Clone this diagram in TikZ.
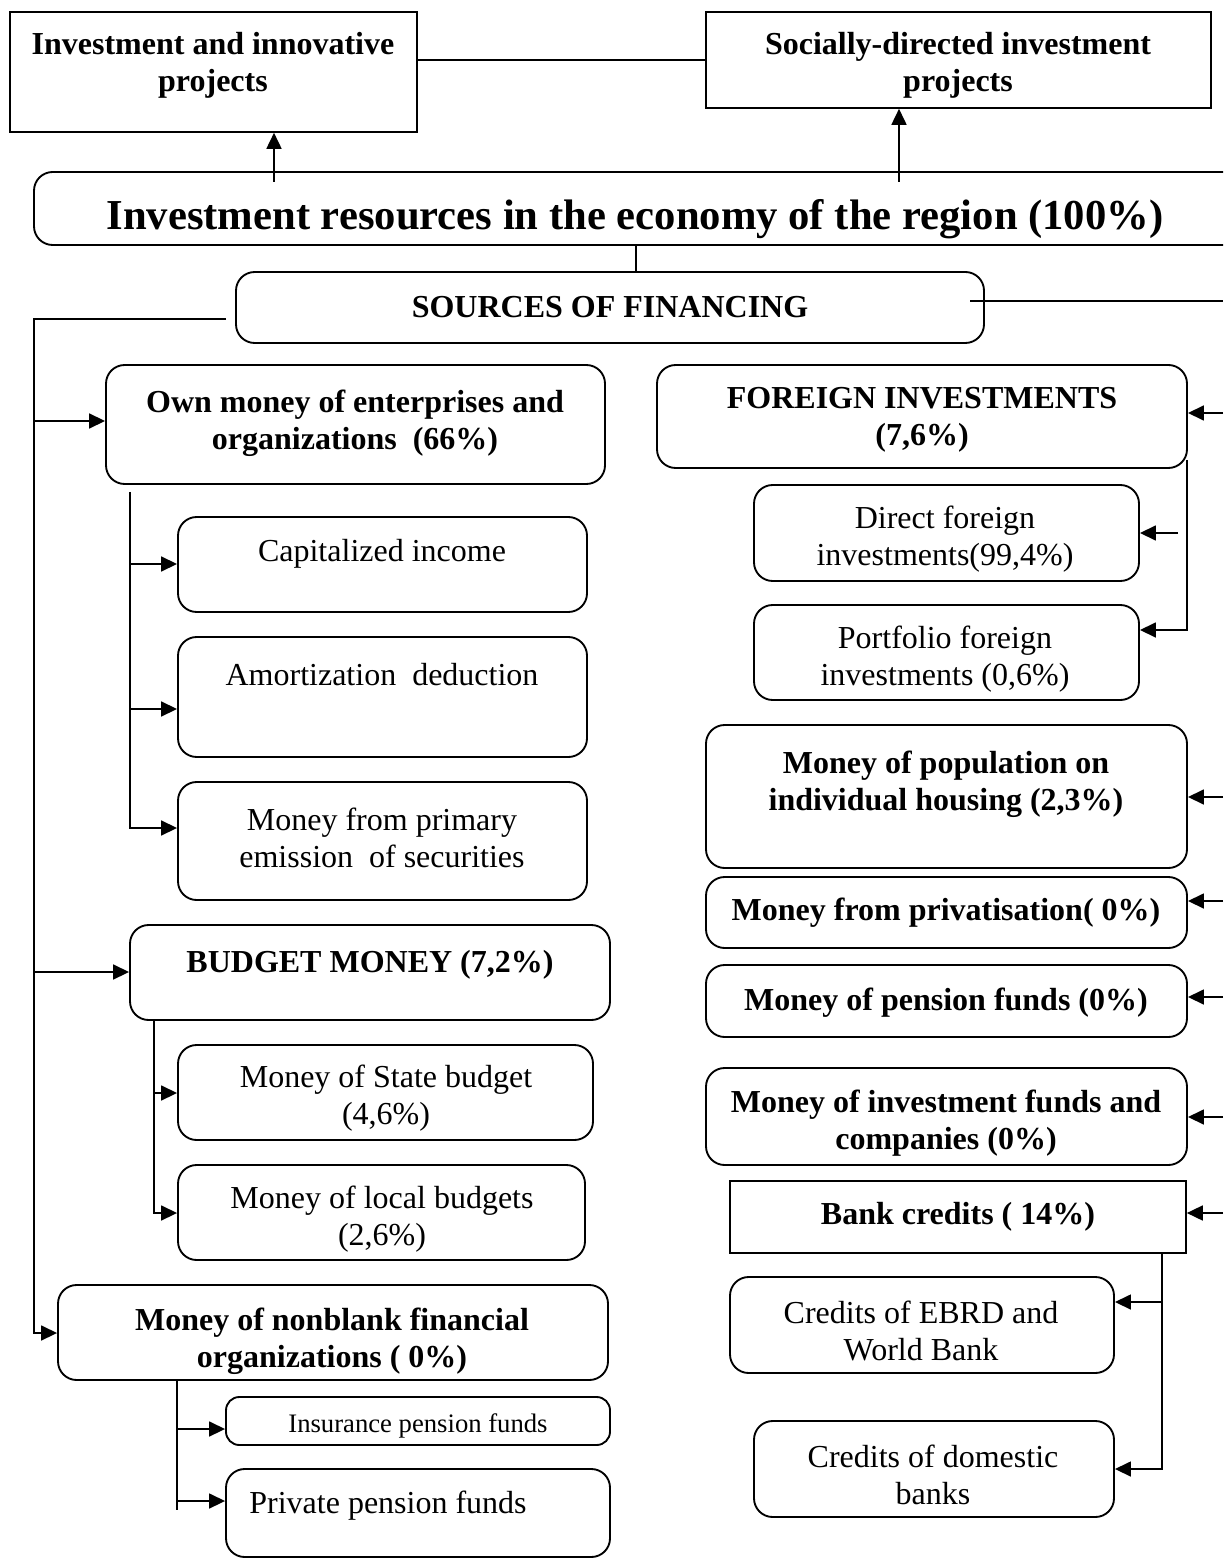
\documentclass[tikz,border=0pt]{standalone}
\usepackage{fontspec}
\setmainfont{Liberation Serif}
\usetikzlibrary{arrows.meta,fit}
\begin{document}
\begin{tikzpicture}[x=0.375pt,y=-0.375pt,
  rbox/.style={draw, line width=0.7pt, rounded corners=7pt, inner sep=0pt},
  sbox/.style={draw, line width=0.6pt, inner sep=0pt},
  txt/.style={align=center, inner sep=0pt, font=\fontsize{12pt}{13.9pt}\selectfont},
  btxt/.style={align=center, inner sep=0pt, font=\fontsize{12pt}{13.9pt}\selectfont\bfseries},
  ln/.style={line width=0.7pt},
  arr/.style={ln, -{Triangle[length=6pt,width=5.6pt]}}]
\useasboundingbox (0,0) rectangle (1223,1560);
\clip (0,0) rectangle (1223,1560);

% boxes
\node[sbox, fit={(10,12) (417,132)}] (inv) {};
\node[sbox, fit={(706,12) (1211,108)}] (soc) {};
\node[rbox, fit={(34,172) (1250,245)}] (res) {};
\node[rbox, fit={(236,272) (984,343)}] (src) {};
\node[rbox, fit={(106,365) (605,484)}] (own) {};
\node[rbox, fit={(178,517) (587,612)}] (cap) {};
\node[rbox, fit={(178,637) (587,757)}] (amo) {};
\node[rbox, fit={(178,782) (587,900)}] (emi) {};
\node[rbox, fit={(130,925) (610,1020)}] (bud) {};
\node[rbox, fit={(178,1045) (593,1140)}] (stb) {};
\node[rbox, fit={(178,1165) (585,1260)}] (lob) {};
\node[rbox, fit={(58,1285) (608,1380)}] (nbf) {};
\node[rbox, rounded corners=5pt, fit={(226,1397) (610,1445)}] (ins) {};
\node[rbox, fit={(226,1469) (610,1557)}] (ppf) {};
\node[rbox, fit={(657,365) (1187,468)}] (fgn) {};
\node[rbox, fit={(754,485) (1139,581)}] (dfi) {};
\node[rbox, fit={(754,605) (1139,700)}] (pfi) {};
\node[rbox, fit={(706,725) (1187,868)}] (pop) {};
\node[rbox, fit={(706,877) (1187,948)}] (pri) {};
\node[rbox, fit={(706,965) (1187,1037)}] (pen) {};
\node[rbox, fit={(706,1068) (1187,1165)}] (ivf) {};
\node[sbox, fit={(730,1181) (1186,1253)}] (bnk) {};
\node[rbox, fit={(730,1277) (1114,1373)}] (ebr) {};
\node[rbox, fit={(754,1421) (1114,1517)}] (dom) {};

% texts
\node[btxt] (inv-t) at (213,65) {Investment and innovative\\projects};
\node[btxt] (soc-t) at (958,65) {Socially-directed investment\\projects};
\node[btxt, font=\fontsize{16pt}{18pt}\selectfont\bfseries] (res-t) at (635,219) {Investment resources in the economy of the region (100\%)};
\node[btxt] (src-t) at (610,307) {SOURCES OF FINANCING};
\node[btxt] (own-t) at (355,423) {Own money of enterprises and\\organizations\ \ (66\%)};
\node[txt] (cap-t) at (382,554) {Capitalized income};
\node[txt] (amo-t) at (382,675) {Amortization\ \ deduction};
\node[txt] (emi-t) at (382,838) {Money from primary\\emission\ \ of securities};
\node[btxt] (bud-t) at (370,965) {BUDGET MONEY (7,2\%)};
\node[txt] (stb-t) at (386,1098) {Money of State budget\\(4,6\%)};
\node[txt] (lob-t) at (382,1219) {Money of local budgets\\(2,6\%)};
\node[btxt] (nbf-t) at (332,1341) {Money of nonblank financial\\organizations ( 0\%)};
\node[txt, font=\fontsize{10pt}{12pt}\selectfont] (ins-t) at (418,1426) {Insurance pension funds};
\node[txt] (ppf-t) at (388,1506) {Private pension funds};
\node[btxt] (fgn-t) at (922,420) {FOREIGN INVESTMENTS\\(7,6\%)};
\node[txt] (dfi-t) at (945,539) {Direct foreign\\investments(99,4\%)};
\node[txt] (pfi-t) at (945,659) {Portfolio foreign\\investments (0,6\%)};
\node[btxt] (pop-t) at (946,784) {Money of population on\\individual housing (2,3\%)};
\node[btxt] (pri-t) at (946,913) {Money from privatisation( 0\%)};
\node[btxt] (pen-t) at (946,1003) {Money of pension funds (0\%)};
\node[btxt] (ivf-t) at (946,1123) {Money of investment funds and\\companies (0\%)};
\node[btxt] (bnk-t) at (958,1217) {Bank credits ( 14\%)};
\node[txt] (ebr-t) at (921,1331) {Credits of EBRD and\\World Bank};
\node[txt] (dom-t) at (933,1475) {Credits of domestic\\banks};

% top connectors
\draw[ln] (soc.west -| inv.east) -- (soc.west);
\coordinate (r1) at (274,182);
\coordinate (r2) at (899,182);
\draw[arr] (r1) -- (r1 |- inv.south);
\draw[arr] (r2) -- (r2 |- soc.south);
\draw[ln] (636,0 |- res.south) -- (636,0 |- src.north);

% left trunk
\coordinate (lh) at (226,319);
\coordinate (lt0) at (34,319);
\coordinate (lt1) at (34,1333);
\draw[arr] (lh) -- (lt0) -- (lt1) -- (lt1 -| nbf.west);
\coordinate (l1) at (34,421);
\coordinate (l2) at (34,972);
\draw[arr] (l1) -- (l1 -| own.west);
\draw[arr] (l2) -- (l2 -| bud.west);

% own money branch
\coordinate (o0) at (130,492);
\coordinate (o1) at (130,564);
\coordinate (o2) at (130,709);
\coordinate (o3) at (130,828);
\draw[arr] (o0) -- (o3) -- (o3 -| emi.west);
\draw[arr] (o1) -- (o1 -| cap.west);
\draw[arr] (o2) -- (o2 -| amo.west);

% budget branch
\coordinate (b1) at (154,1093);
\coordinate (b2) at (154,1213);
\draw[arr] (154,0 |- bud.south) -- (b2) -- (b2 -| lob.west);
\draw[arr] (b1) -- (b1 -| stb.west);

% nonbank branch
\coordinate (n1) at (177,1429);
\coordinate (n2) at (177,1501);
\coordinate (n3) at (177,1510);
\draw[ln] (177,0 |- nbf.south) -- (n3);
\draw[arr] (n1) -- (n1 -| ins.west);
\draw[arr] (n2) -- (n2 -| ppf.west);

% right trunk
\coordinate (sr) at (970,301);
\coordinate (se) at (1223,301);
\draw[ln] (sr) -- (se);
\coordinate (e1) at (1223,413);
\coordinate (e2) at (1223,797);
\coordinate (e3) at (1223,901);
\coordinate (e4) at (1223,997);
\coordinate (e5) at (1223,1117);
\coordinate (e6) at (1223,1213);
\draw[arr] (e1) -- (e1 -| fgn.east);
\draw[arr] (e2) -- (e2 -| pop.east);
\draw[arr] (e3) -- (e3 -| pri.east);
\draw[arr] (e4) -- (e4 -| pen.east);
\draw[arr] (e5) -- (e5 -| ivf.east);
\draw[arr] (e6) -- (e6 -| bnk.east);

% foreign branch
\coordinate (f0) at (1187,460);
\coordinate (f1) at (1178,533);
\coordinate (f2) at (1187,630);
\draw[arr] (f0) -- (f2) -- (f2 -| pfi.east);
\draw[arr] (f1) -- (f1 -| dfi.east);

% bank branch
\coordinate (k1) at (1162,1302);
\coordinate (k2) at (1162,1469);
\draw[arr] (1162,0 |- bnk.south) -- (k2) -- (k2 -| dom.east);
\draw[arr] (k1) -- (k1 -| ebr.east);
\end{tikzpicture}
\end{document}
